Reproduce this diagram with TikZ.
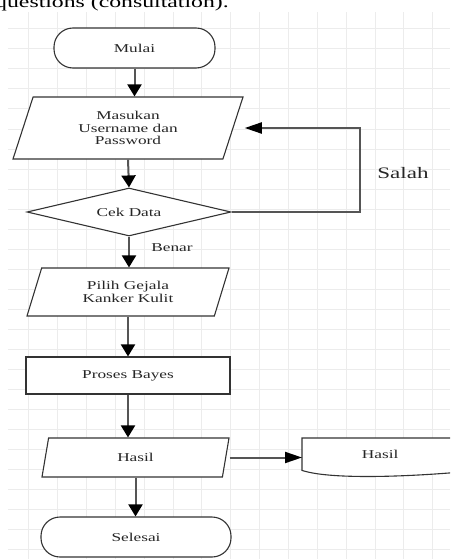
\documentclass[tikz,border=0pt]{standalone}
\usepackage{fontspec}
\setmainfont{Liberation Serif}
\newfontfamily\wideserif[FakeStretch=1.44]{Liberation Serif}
\usetikzlibrary{arrows.meta,shapes.geometric}
\definecolor{gridgray}{HTML}{ECECEC}
\definecolor{linkgray}{HTML}{555555}
\definecolor{edgegray}{HTML}{333333}

\begin{document}
\begin{tikzpicture}[x=1pt,y=-1pt,
   every node/.style={font=\wideserif\fontsize{12}{12.5}\selectfont, text=black!85},
   gridline/.style={draw=gridgray, line width=1pt},
   box/.style={draw=edgegray, line width=1.1pt, fill=white, inner sep=0pt, align=center},
   term/.style={box, rectangle, rounded corners=19pt, minimum width=#1, minimum height=40pt},
   par/.style 2 args={box, trapezium, trapezium stretches body,
      trapezium left angle=#1, trapezium right angle=#2},
   link/.style={draw=linkgray, line width=2pt, -{Triangle[width=14pt,length=12pt,black]}},
   hlink/.style={link, -{Triangle[width=11pt,length=17pt,black]}}]

   \useasboundingbox (0,0) rectangle (450,559);
   \clip (0,0) rectangle (450,559);

   % background grid
   \foreach \gx in {1,...,15}
     \draw[gridline] (28.85*\gx,12) -- (28.85*\gx,559);
   \foreach \gy in {29,49,...,549}
     \draw[gridline] (8,\gy) -- (450,\gy);

   \node[anchor=base west, inner sep=0pt, text=black,
         font=\wideserif\fontsize{16.5}{17}\selectfont] (caption) at (-5,7.5) {questions (consultation).};

   \node[term=161pt] (start) at (134.5,48) {Mulai};
   \node[par={59}{121}, minimum width=230pt, minimum height=62pt] (in1) at (128,128)
      {Masukan\\Username dan\\Password};
   \node[box, diamond, aspect=4.25, minimum width=204pt, minimum height=48pt] (chk) at (129,212) {Cek Data};
   \node[par={55}{125}, minimum width=202pt, minimum height=48pt] (in2) at (128,292)
      {Pilih Gejala\\Kanker Kulit};
   \node[box, minimum width=204pt, minimum height=37pt] (proc) at (128,375.5) {Proses Bayes};
   \node[par={52}{128}, minimum width=187pt, minimum height=39pt] (out) at (135.5,457.5) {Hasil};
   \node[term=190pt] (stop) at (136,537) {Selesai};

   % document shape, cut by the right edge
   \node[anchor=north west, minimum width=156pt, minimum height=32pt, inner sep=0pt] (doc) at (302,438) {Hasil};
   \draw[draw=edgegray, line width=1.1pt, fill=white]
      ([xshift=20pt]doc.north east) -- (doc.north west) -- (doc.south west)
      .. controls +(30,10) and +(-60,6) .. ([xshift=20pt]doc.south east);
   \node[anchor=north west, minimum width=156pt, minimum height=32pt, inner sep=0pt] at (302,438) {Hasil};

   \draw[link] (start.south) -- (start.south |- in1.north);
   \draw[link] (in1.center |- in1.south) -- (chk.north);
   \draw[link] (chk.south) -- (chk.south |- in2.north);
   \draw[link] (in2.center |- in2.south) -- (in2.center |- proc.north);
   \draw[link] (proc.south) -- (proc.south |- out.north);
   \draw[link] (out.center |- out.south) -- (out.center |- stop.north);
   \draw[hlink] (out.top right corner |- out.center) -- (out.center -| doc.west);
   \draw[hlink] (chk.east) -- ++(128,0) |- ([xshift=1pt]in1.top right corner |- in1.center);

   \node (benar) at (172,248) {Benar};
   \node[font=\wideserif\fontsize{16}{16}\selectfont] (salah) at (403,173) {Salah};
\end{tikzpicture}
\end{document}
